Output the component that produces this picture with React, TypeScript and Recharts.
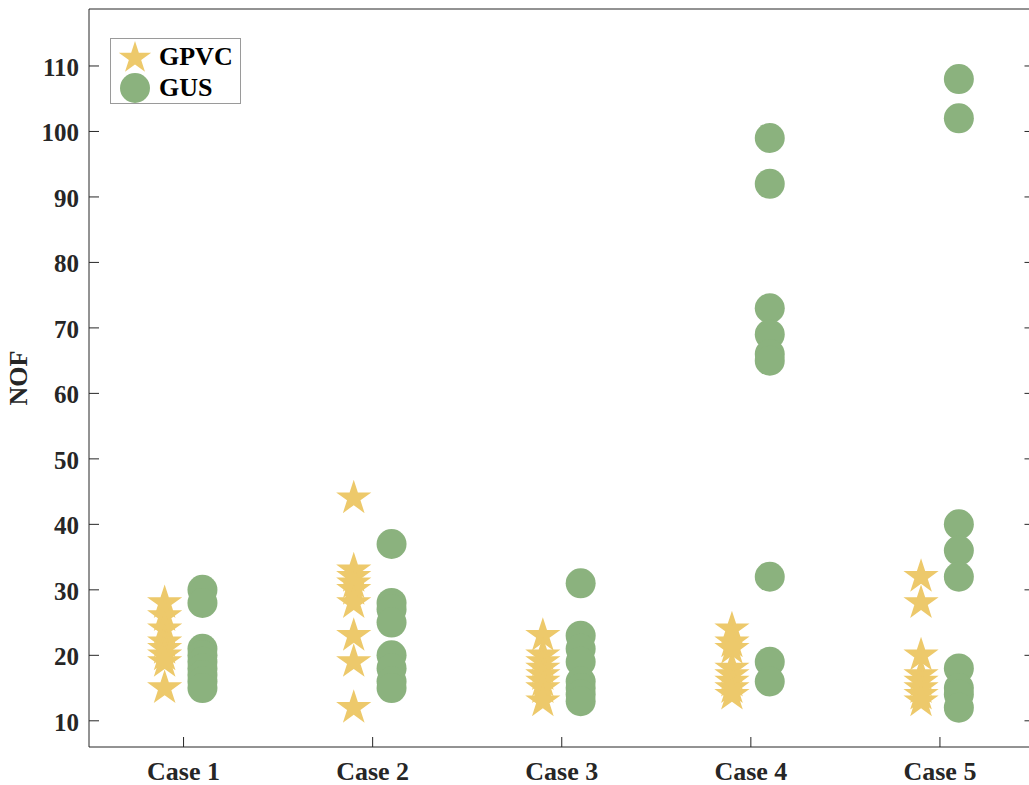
import { Legend, Scatter, ScatterChart, XAxis, YAxis } from 'recharts'

// NOF per run, grouped by test case
const CASES = ['Case 1', 'Case 2', 'Case 3', 'Case 4', 'Case 5']

const GPVC_CASE1 = [28, 26, 24, 22, 21, 20, 19, 15]
const GPVC_CASE2 = [44, 33, 32, 31, 30, 28, 23, 19, 12]
const GPVC_CASE3 = [23, 20, 19, 18, 17, 16, 15, 13]
const GPVC_CASE4 = [24, 22, 21, 18, 17, 16, 15, 14]
const GPVC_CASE5 = [32, 28, 20, 17, 16, 15, 14, 13]

const GUS_CASE1 = [30, 28, 21, 20, 19, 18, 17, 16, 15]
const GUS_CASE2 = [37, 28, 27, 25, 20, 18, 16, 15]
const GUS_CASE3 = [31, 23, 21, 19, 16, 15, 14, 13]
const GUS_CASE4 = [99, 92, 73, 69, 66, 65, 32, 19, 16]
const GUS_CASE5 = [108, 102, 40, 36, 32, 18, 15, 14, 12]

const Y_TICKS = [10, 20, 30, 40, 50, 60, 70, 80, 90, 100, 110]
const X_TICKS = [1, 2, 3, 4, 5]

const GPVC_COLOR = '#EDC96B'
const GUS_COLOR = '#8BB27E'
const INK = '#262626'
const FONT = "'Liberation Serif', 'Times New Roman', serif"

// side-by-side dodge inside each case slot
const SHIFT = 0.1

const toPoints = (groups: number[][], shift: number) =>
    groups.flatMap((vals, i) => vals.map((y) => ({ x: i + 1 + shift, y })))

const gpvcData = toPoints([GPVC_CASE1, GPVC_CASE2, GPVC_CASE3, GPVC_CASE4, GPVC_CASE5], -SHIFT)
const gusData = toPoints([GUS_CASE1, GUS_CASE2, GUS_CASE3, GUS_CASE4, GUS_CASE5], SHIFT)

function starPath(cx: number, cy: number, R: number) {
    const r = R * 0.382
    const pts: string[] = []
    for (let k = 0; k < 10; k++) {
        const rad = k % 2 === 0 ? R : r
        const a = -Math.PI / 2 + (k * Math.PI) / 5
        pts.push(`${cx + rad * Math.cos(a)},${cy + rad * Math.sin(a)}`)
    }
    return pts.join(' ')
}

const StarShape = (props: any) => (
    <polygon points={starPath(props.cx, props.cy, 18.5)} fill={GPVC_COLOR} />
)

const DotShape = (props: any) => (
    <circle cx={props.cx} cy={props.cy} r={15} fill={GUS_COLOR} />
)

// ticks point inward, matlab style
const LeftTick = ({ x, y, payload }: any) => (
    <g>
        <line x1={x} x2={x + 10} y1={y} y2={y} stroke={INK} />
        <text x={x - 10} y={y} dy={10} textAnchor="end" fill={INK}
            fontFamily={FONT} fontWeight="bold" fontSize={25}>
            {payload.value}
        </text>
    </g>
)

const BottomTick = ({ x, y, payload }: any) => (
    <g>
        <line x1={x} x2={x} y1={y} y2={y - 10} stroke={INK} />
        <text x={x} y={y + 33} textAnchor="middle" fill={INK}
            fontFamily={FONT} fontWeight="bold" fontSize={26}>
            {CASES[payload.value - 1]}
        </text>
    </g>
)

const TopTick = ({ x, y }: any) => <line x1={x} x2={x} y1={y} y2={y + 10} stroke={INK} />
const RightTick = ({ x, y }: any) => <line x1={x - 10} x2={x} y1={y} y2={y} stroke={INK} />

const NofLabel = ({ viewBox }: any) => (
    <text
        x={27}
        y={viewBox.y + viewBox.height / 2}
        transform={`rotate(-90, 27, ${viewBox.y + viewBox.height / 2})`}
        textAnchor="middle"
        fill={INK}
        fontFamily={FONT}
        fontWeight="bold"
        fontSize={26}
    >
        NOF
    </text>
)

function LegendBox() {
    return (
        <div
            style={{
                border: '1px solid #9a9a9a',
                background: '#fff',
                width: 131,
                height: 66,
                boxSizing: 'border-box',
                fontFamily: FONT,
                fontWeight: 'bold',
                fontSize: 26,
                color: '#000',
                position: 'relative',
            }}
        >
            <svg width={40} height={66} style={{ position: 'absolute', left: 6, top: 0 }}>
                <polygon points={starPath(18, 19, 17)} fill={GPVC_COLOR} />
                <circle cx={18} cy={49} r={15} fill={GUS_COLOR} />
            </svg>
            <div style={{ position: 'absolute', left: 48, top: 4, lineHeight: '28px' }}>GPVC</div>
            <div style={{ position: 'absolute', left: 48, top: 35, lineHeight: '28px' }}>GUS</div>
        </div>
    )
}

export default function App() {
    return (
        <div
            style={{
                position: 'fixed',
                left: 0,
                top: 0,
                width: 1029,
                height: 785,
                overflow: 'hidden',
                background: '#fff',
            }}
        >
            <ScatterChart
                width={1045}
                height={785}
                margin={{ top: 8, right: 9.5, bottom: 0, left: 0 }}
            >
                <XAxis
                    xAxisId="b"
                    type="number"
                    dataKey="x"
                    domain={[0.5, 5.5]}
                    ticks={X_TICKS}
                    allowDataOverflow
                    height={38}
                    tickSize={0}
                    tickMargin={0}
                    tickLine={false}
                    axisLine={{ stroke: INK }}
                    tick={<BottomTick />}
                    interval={0}
                />
                <XAxis
                    xAxisId="t"
                    orientation="top"
                    type="number"
                    domain={[0.5, 5.5]}
                    ticks={X_TICKS}
                    allowDataOverflow
                    height={1}
                    tickSize={0}
                    tickMargin={0}
                    tickLine={false}
                    axisLine={{ stroke: INK }}
                    tick={<TopTick />}
                    interval={0}
                />
                <YAxis
                    yAxisId="l"
                    type="number"
                    dataKey="y"
                    domain={[6, 118.7]}
                    ticks={Y_TICKS}
                    allowDataOverflow
                    width={89}
                    tickSize={0}
                    tickMargin={0}
                    tickLine={false}
                    axisLine={{ stroke: INK }}
                    tick={<LeftTick />}
                    interval={0}
                    label={<NofLabel />}
                />
                <YAxis
                    yAxisId="r"
                    orientation="right"
                    type="number"
                    domain={[6, 118.7]}
                    ticks={Y_TICKS}
                    allowDataOverflow
                    width={1}
                    tickSize={0}
                    tickMargin={0}
                    tickLine={false}
                    axisLine={{ stroke: INK }}
                    tick={<RightTick />}
                    interval={0}
                />
                <Legend
                    layout="horizontal"
                    verticalAlign="middle"
                    align="center"
                    content={<LegendBox />}
                    wrapperStyle={{ left: 110, top: 38, width: 'auto', height: 'auto' }}
                />
                <Scatter
                    name="GPVC"
                    data={gpvcData}
                    xAxisId="b"
                    yAxisId="l"
                    fill={GPVC_COLOR}
                    shape={StarShape}
                    isAnimationActive={false}
                />
                <Scatter
                    name="GUS"
                    data={gusData}
                    xAxisId="b"
                    yAxisId="l"
                    fill={GUS_COLOR}
                    shape={DotShape}
                    isAnimationActive={false}
                />
            </ScatterChart>
        </div>
    )
}
